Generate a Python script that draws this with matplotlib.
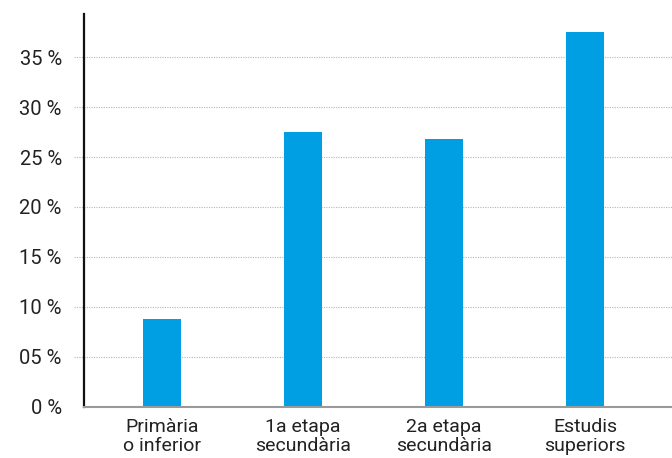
import matplotlib
matplotlib.use("Agg")
import matplotlib.pyplot as plt

plt.rcParams['font.family'] = ['Roboto', 'DejaVu Sans']

categories = ["Primària\no inferior", "1a etapa\nsecundària", "2a etapa\nsecundària", "Estudis\nsuperiors"]
values = [8.8, 27.5, 26.8, 37.5]
y_ticks = [0, 5, 10, 15, 20, 25, 30, 35]
y_tick_labels = ["0 %", "05 %", "10 %", "15 %", "20 %", "25 %", "30 %", "35 %"]

fig = plt.figure(figsize=(6.72, 4.58), dpi=100)
ax = fig.add_axes([0.125, 0.112, 0.875, 0.857])

x = range(len(categories))
ax.bar(x, values, width=0.27, color='#009fe3', zorder=3)

ax.set_xlim(-0.552, 3.617)
ax.set_ylim(0, 39.3)

# dotted grid lines, poking out a bit to the left of the axis
for t in y_ticks[1:]:
    ax.axhline(t, xmin=-10/588, xmax=1, color='#b5b5b5', linestyle=(0, (1, 1.2)),
               linewidth=0.8, clip_on=False, zorder=1)

ax.set_yticks(y_ticks)
ax.set_yticklabels(y_tick_labels)
ax.set_xticks(list(x))
ax.set_xticklabels(categories, linespacing=1.05)

ax.tick_params(axis='y', length=0, pad=16, labelsize=14.5, labelcolor='#222222')
ax.tick_params(axis='x', length=0, pad=8, labelsize=14, labelcolor='#222222')

for s in ['top', 'right']:
    ax.spines[s].set_visible(False)
ax.spines['left'].set_color('#111111')
ax.spines['left'].set_linewidth(1.6)
ax.spines['bottom'].set_color('#9a9a9a')
ax.spines['bottom'].set_linewidth(1.5)
ax.spines['bottom'].set_zorder(4)

fig.savefig("out.png", dpi=100)
